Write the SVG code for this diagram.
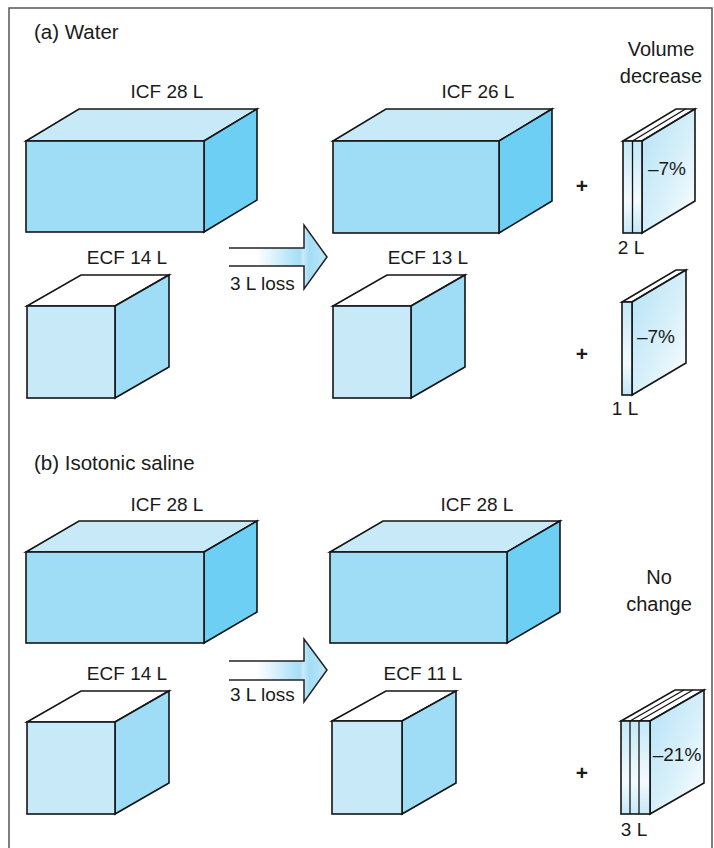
<svg xmlns="http://www.w3.org/2000/svg" width="714" height="848" viewBox="0 0 714 848">
<style>
  text { font-family: "Liberation Sans", Arial, sans-serif; fill: #1a1a1a; font-size: 19px; }
  .h { font-size: 20.5px; }
  .v { font-size: 20px; }
  .p { font-size: 21px; font-weight: bold; }
  .m { text-anchor: middle; }
  .e { stroke: #151515; stroke-width: 1.6; stroke-linejoin: miter; }
  .if { fill: #9fdcf5; }
  .it { fill: #c8eaf8; }
  .ir { fill: #6dcff3; }
  .ef { fill: #c8eaf8; }
  .et { fill: #ffffff; }
  .er { fill: #9fdcf5; }
  .sf { fill: url(#slabFront); }
  .sr { fill: url(#slabSide); }
  .st { fill: #ffffff; }
  .ln { fill: none; stroke: #151515; stroke-width: 1.3; }
  .arrow { fill: url(#arrowGrad); stroke: #222; stroke-width: 1.5; }
</style>
<defs>
  <linearGradient id="arrowGrad" x1="229" y1="0" x2="327" y2="0" gradientUnits="userSpaceOnUse">
    <stop offset="0" stop-color="#ffffff"/>
    <stop offset="0.28" stop-color="#ffffff"/>
    <stop offset="0.72" stop-color="#a6def6"/>
    <stop offset="0.76" stop-color="#c6eaf9"/>
    <stop offset="0.82" stop-color="#a3ddf5"/>
    <stop offset="1" stop-color="#bfe7f8"/>
  </linearGradient>
  <linearGradient id="slabFront" x1="0" y1="0" x2="0" y2="1">
    <stop offset="0" stop-color="#c3e8f8"/>
    <stop offset="0.65" stop-color="#f4fbfe"/>
    <stop offset="1" stop-color="#c3e8f8"/>
  </linearGradient>
  <linearGradient id="slabSide" x1="0" y1="0" x2="1" y2="1">
    <stop offset="0" stop-color="#b3e2f6"/>
    <stop offset="0.55" stop-color="#d8f0fa"/>
    <stop offset="1" stop-color="#ffffff"/>
  </linearGradient>
</defs>

<path d="M9,848 V8 H712 V848" fill="none" stroke="#555" stroke-width="1.5"/>

<text class="h" x="34" y="39">(a) Water</text>
<text class="m v" x="661" y="56">Volume</text>
<text class="m v" x="661" y="83">decrease</text>
<text class="h" x="34" y="470">(b) Isotonic saline</text>
<text class="m v" x="659" y="584">No</text>
<text class="m v" x="659" y="611">change</text>

<g id="a-icf-before">
  <polygon class="e it" points="26,141 79,109 257,109 204,141"/>
  <polygon class="e ir" points="204,141 257,109 257,200 204,232"/>
  <rect class="e if" x="26" y="141" width="178" height="91"/>
  <text class="m" x="167" y="98">ICF 28 L</text>
</g>
<g id="a-ecf-before">
  <polygon class="e et" points="27,306 81,275 169,275 115,306"/>
  <polygon class="e er" points="115,306 169,275 169,367 115,398"/>
  <rect class="e ef" x="27" y="306" width="88" height="92"/>
  <text class="m" x="127" y="264">ECF 14 L</text>
</g>
<g id="a-icf-after">
  <polygon class="e it" points="333,141 386,109 552,109 499,141"/>
  <polygon class="e ir" points="499,141 552,109 552,201 499,233"/>
  <rect class="e if" x="333" y="141" width="166" height="92"/>
  <text class="m" x="478" y="98">ICF 26 L</text>
</g>
<g id="a-ecf-after">
  <polygon class="e et" points="333,306 387,275 465,275 411,306"/>
  <polygon class="e er" points="411,306 465,275 465,367 411,398"/>
  <rect class="e ef" x="333" y="306" width="78" height="92"/>
  <text class="m" x="428" y="264">ECF 13 L</text>
</g>
<g id="a-slab-icf">
  <text class="m p" x="582" y="193">+</text>
  <polygon class="e st" points="623,141 676,109 695,109 642,141"/>
  <line class="ln" x1="632.5" y1="141" x2="685.5" y2="109"/>
  <polygon class="e sr" points="642,141 695,109 695,201 642,233"/>
  <rect class="e sf" x="623" y="141" width="19" height="92"/>
  <line class="ln" x1="632.5" y1="141" x2="632.5" y2="233"/>
  <text class="m" x="667" y="175">–7%</text>
  <text class="m" x="631" y="254">2 L</text>
</g>
<g id="a-slab-ecf">
  <text class="m p" x="582" y="361">+</text>
  <polygon class="e st" points="622,302 676,270 686,270 632,302"/>
  <polygon class="e sr" points="632,302 686,270 686,363 632,395"/>
  <rect class="e sf" x="622" y="302" width="10" height="93"/>
  <text class="m" x="656" y="343">–7%</text>
  <text class="m" x="625" y="415">1 L</text>
</g>

<g id="b-icf-before">
  <polygon class="e it" points="26,552 79,521 257,521 204,552"/>
  <polygon class="e ir" points="204,552 257,521 257,612 204,643"/>
  <rect class="e if" x="26" y="552" width="178" height="91"/>
  <text class="m" x="167" y="511">ICF 28 L</text>
</g>
<g id="b-ecf-before">
  <polygon class="e et" points="27,722 81,691 169,691 115,722"/>
  <polygon class="e er" points="115,722 169,691 169,783 115,814"/>
  <rect class="e ef" x="27" y="722" width="88" height="92"/>
  <text class="m" x="127" y="680">ECF 14 L</text>
</g>
<g id="b-icf-after">
  <polygon class="e it" points="330,552 383,521 560,521 507,552"/>
  <polygon class="e ir" points="507,552 560,521 560,612 507,643"/>
  <rect class="e if" x="330" y="552" width="177" height="91"/>
  <text class="m" x="477" y="511">ICF 28 L</text>
</g>
<g id="b-ecf-after">
  <polygon class="e et" points="332,721 386,691 456,691 402,721"/>
  <polygon class="e er" points="402,721 456,691 456,783 402,814"/>
  <rect class="e ef" x="332" y="721" width="70" height="93"/>
  <text class="m" x="423" y="680">ECF 11 L</text>
</g>
<g id="b-slab-ecf">
  <text class="m p" x="582" y="780">+</text>
  <polygon class="e st" points="621,721 675,690 704,690 650,721"/>
  <line class="ln" x1="630" y1="721" x2="684" y2="690"/>
  <line class="ln" x1="639" y1="721" x2="693" y2="690"/>
  <polygon class="e sr" points="650,721 704,690 704,783 650,814"/>
  <rect class="e sf" x="621" y="721" width="29" height="93"/>
  <line class="ln" x1="630" y1="721" x2="630" y2="814"/>
  <line class="ln" x1="639" y1="721" x2="639" y2="814"/>
  <text class="m" x="677" y="761">–21%</text>
  <text class="m" x="634" y="836">3 L</text>
</g>

<g id="connectors">
  <path class="arrow" d="M229,248 H304 V225 L327,257 L304,289 V266 H229"/>
  <text x="230" y="290">3 L loss</text>
  <path class="arrow" d="M229,661 H304 V639 L327,670 L304,702 V680 H229"/>
  <text x="230" y="701">3 L loss</text>
</g>
</svg>
